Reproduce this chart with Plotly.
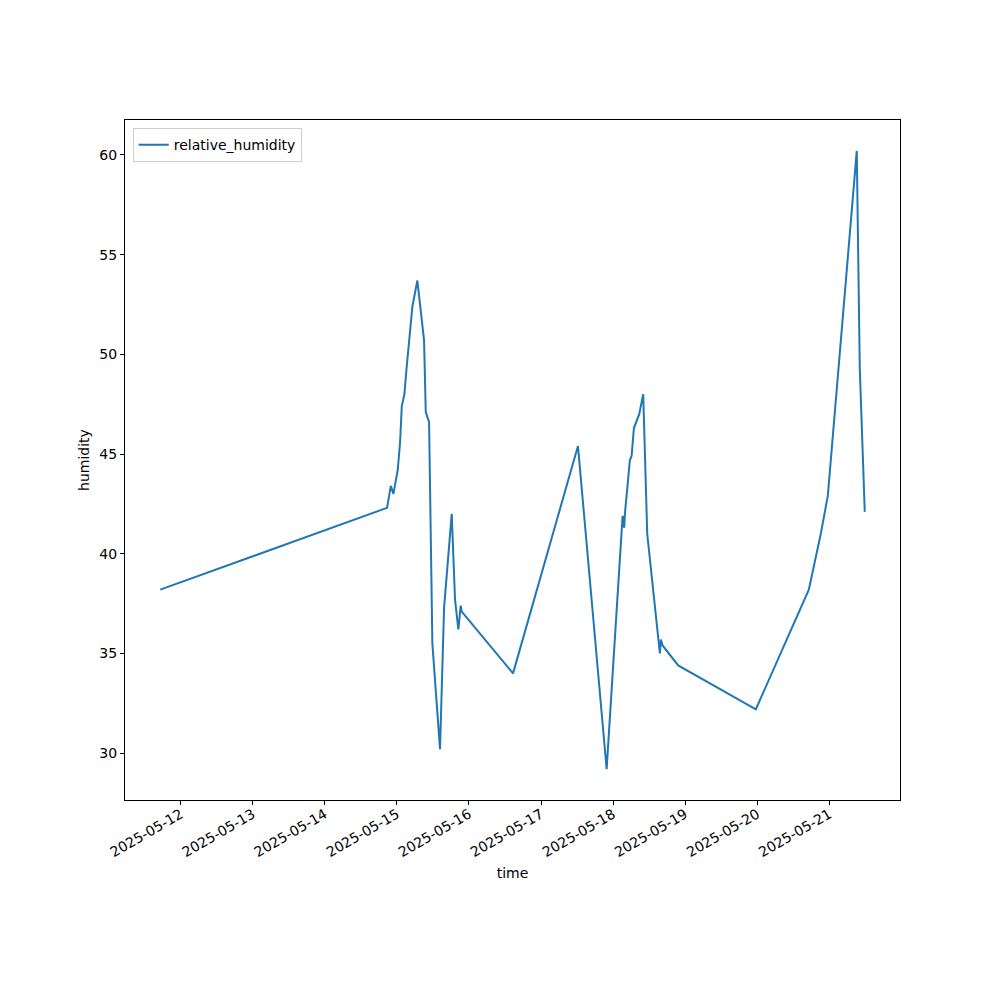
import pandas as pd
import plotly.graph_objects as go

times = [
    "2025-05-11 17:10", "2025-05-14 20:44", "2025-05-14 21:58", "2025-05-14 22:50",
    "2025-05-15 00:17", "2025-05-15 01:04", "2025-05-15 01:38", "2025-05-15 02:30",
    "2025-05-15 03:17", "2025-05-15 04:23", "2025-05-15 05:10", "2025-05-15 06:49",
    "2025-05-15 09:03", "2025-05-15 09:37", "2025-05-15 10:43", "2025-05-15 11:49",
    "2025-05-15 14:22", "2025-05-15 15:43", "2025-05-15 18:16", "2025-05-15 19:22",
    "2025-05-15 20:28", "2025-05-15 21:16", "2025-05-15 21:36", "2025-05-16 14:41",
    "2025-05-17 12:19", "2025-05-17 21:52", "2025-05-18 03:11", "2025-05-18 03:43",
    "2025-05-18 03:57", "2025-05-18 05:37", "2025-05-18 06:11", "2025-05-18 06:57",
    "2025-05-18 08:43", "2025-05-18 10:03", "2025-05-18 11:23", "2025-05-18 15:36",
    "2025-05-18 15:56", "2025-05-18 16:30", "2025-05-18 21:42", "2025-05-19 23:34",
    "2025-05-20 17:13", "2025-05-20 21:12", "2025-05-20 23:32", "2025-05-21 09:11",
    "2025-05-21 10:11", "2025-05-21 11:51",
]
humidity = [
    38.2, 42.3, 43.4, 43.0,
    44.2, 45.6, 47.4, 48.0,
    49.4, 51.0, 52.4, 53.7,
    50.7, 47.1, 46.6, 35.5,
    30.2, 37.3, 42.0, 37.7,
    36.2, 37.4, 37.1, 34.0,
    45.4, 29.2, 41.9, 41.3,
    42.0, 44.7, 44.9, 46.3,
    47.0, 48.0, 41.0, 35.0,
    35.7, 35.4, 34.4, 32.2,
    38.2, 41.0, 42.9, 60.2,
    49.3, 42.1,
]
tick_days = ["2025-05-12", "2025-05-13", "2025-05-14", "2025-05-15", "2025-05-16",
             "2025-05-17", "2025-05-18", "2025-05-19", "2025-05-20", "2025-05-21"]

t = pd.to_datetime(times)
tmin, tmax = t.min(), t.max()
pad = (tmax - tmin) * 0.05
ymin, ymax = min(humidity), max(humidity)
ypad = (ymax - ymin) * 0.05

fig = go.Figure()
fig.add_trace(go.Scatter(x=t, y=humidity, mode="lines", name="relative_humidity",
                         line=dict(color="#1f77b4", width=2)))

font = dict(family="DejaVu Sans", size=14, color="black")
fig.update_layout(
    width=1000, height=1000,
    margin=dict(l=117, r=108, t=112, b=208),
    plot_bgcolor="white", paper_bgcolor="white",
    font=font,
    showlegend=True,
    legend=dict(x=0.01, y=0.988, xanchor="left", yanchor="top",
                bordercolor="#cccccc", borderwidth=1, bgcolor="rgba(255,255,255,0.8)",
                font=font),
    xaxis=dict(
        range=[tmin - pad, tmax + pad],
        tickmode="array", tickvals=pd.to_datetime(tick_days), ticktext=tick_days,
        tickangle=-30, ticks="outside", ticklen=4, tickcolor="black",
        ticklabelstandoff=-4,
        showline=True, linecolor="black", linewidth=1, mirror=True,
        showgrid=False, zeroline=False,
        title=dict(text="time", font=font, standoff=9),
    ),
    yaxis=dict(
        range=[ymin - ypad, ymax + ypad],
        tickvals=[30, 35, 40, 45, 50, 55, 60],
        ticks="outside", ticklen=4, tickcolor="black",
        showline=True, linecolor="black", linewidth=1, mirror=True,
        showgrid=False, zeroline=False,
        title=dict(text="humidity", font=font, standoff=6),
    ),
)
fig.write_html("out.html")
